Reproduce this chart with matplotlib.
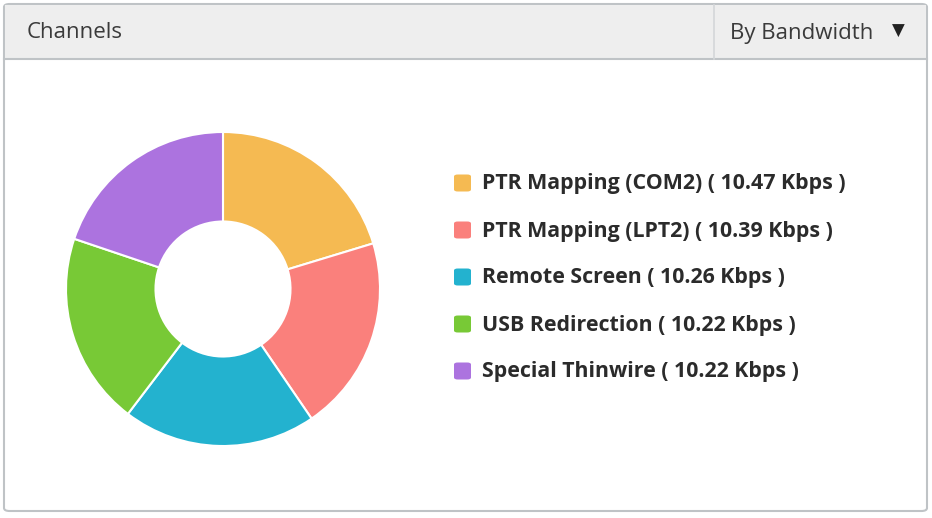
import matplotlib
matplotlib.use("Agg")
import matplotlib.pyplot as plt
from matplotlib.patches import FancyBboxPatch, Rectangle
from matplotlib.lines import Line2D

# chart data
channels = ["PTR Mapping (COM2)", "PTR Mapping (LPT2)", "Remote Screen",
            "USB Redirection", "Special Thinwire"]
bandwidth_kbps = [10.47, 10.39, 10.26, 10.22, 10.22]
colors = ["#F5BA52", "#FA807C", "#23B2CF", "#78C936", "#AC73DF"]
title = "Channels"
selector = "By Bandwidth"

W, H = 932, 518
plt.rcParams["font.family"] = ["Open Sans", "DejaVu Sans"]
fig = plt.figure(figsize=(W / 100, H / 100), dpi=100)


def fx(px):
    return px / W


def fy(py):
    return 1 - py / H


# panel frame
border = "#BFC3C6"
panel = FancyBboxPatch((fx(4), fy(511)), fx(923), (511 - 4) / H,
                       boxstyle="round,pad=0,rounding_size=0.006",
                       transform=fig.transFigure, facecolor="white",
                       edgecolor=border, linewidth=1.5, zorder=-10)
fig.patches.append(panel)
header = Rectangle((fx(5), fy(59)), fx(921), (59 - 5) / H,
                   transform=fig.transFigure, facecolor="#EEEEEE",
                   edgecolor="none", zorder=-9)
fig.patches.append(header)
fig.lines.append(Line2D([fx(4), fx(927)], [fy(59), fy(59)],
                        transform=fig.transFigure, color=border, lw=1.5,
                        zorder=-8))
fig.lines.append(Line2D([fx(714), fx(714)], [fy(5), fy(59)],
                        transform=fig.transFigure, color="#D4D7D9", lw=1.2,
                        zorder=-8))
fig.text(fx(27), fy(33), title, fontsize=16, color="#3A3A3A",
         va="center", ha="left")
fig.text(fx(730), fy(33), selector, fontsize=16, color="#3A3A3A",
         va="center", ha="left")
fig.text(fx(898), fy(31), "\u25BC", fontsize=12, color="#222222",
         va="center", ha="center", family="DejaVu Sans")

# donut
cx, cy, r = 223, 289, 157
ax = fig.add_axes([fx(cx - r), fy(cy + r), 2 * r / W, 2 * r / H])
wedges, _ = ax.pie(bandwidth_kbps, colors=colors, startangle=90,
                   counterclock=False, radius=1,
                   wedgeprops=dict(width=0.57, edgecolor="white",
                                   linewidth=1.5))
ax.set_xlim(-1, 1)
ax.set_ylim(-1, 1)
ax.set_aspect("equal")
ax.axis("off")

# legend: rounded swatches + bold labels
sw, row0, step = 17, 183, 47
for i, (name, val, col) in enumerate(zip(channels, bandwidth_kbps, colors)):
    yc = row0 + i * step
    fig.patches.append(FancyBboxPatch(
        (fx(454), fy(yc + sw / 2)), fx(sw), sw / H,
        boxstyle="round,pad=0,rounding_size=0.004",
        transform=fig.transFigure, facecolor=col, edgecolor="none"))
    fig.text(fx(482), fy(yc + 1), f"{name} ( {val:.2f} Kbps )",
             fontsize=15.4, fontweight="bold", color="#2B2B2B",
             va="center", ha="left")

fig.savefig("out.png", dpi=100)
